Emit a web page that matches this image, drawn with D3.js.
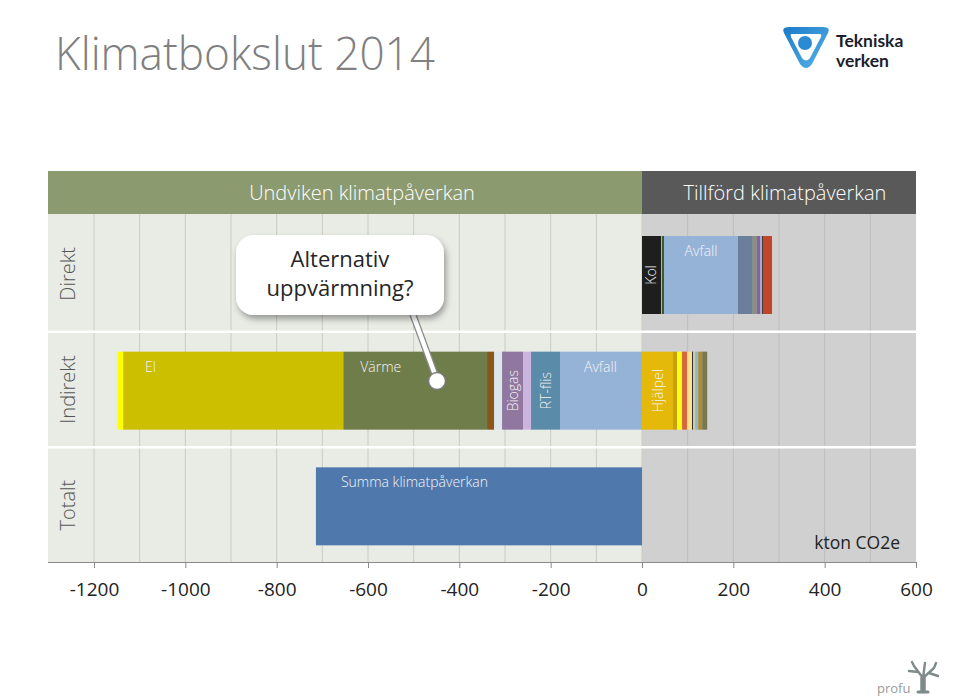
<!DOCTYPE html>
<html><head><meta charset="utf-8">
<script src="https://cdn.jsdelivr.net/npm/d3@7"></script>
<style>
html,body{margin:0;padding:0;background:#fff;}
svg{display:block;font-family:"Open Sans",sans-serif;}
</style></head>
<body>
<svg id="chart" width="960" height="699"></svg>
<script>
// ---------- DATA ----------
const rows = ["Direkt", "Indirekt", "Totalt"];
const headers = ["Undviken klimatpåverkan", "Tillförd klimatpåverkan"];
const tickValues = [-1200, -1000, -800, -600, -400, -200, 0, 200, 400, 600];

// Direkt (positive, from zero outward)
const direktNames  = ["Kol", "Bio a", "Bio b", "Avfall", "Olja", "Gas", "Övrigt a", "Övrigt b", "Övrigt c", "Övrigt d"];
const direktValues = [41.6, 2.2, 4.4, 162, 30.7, 11, 6.5, 4.4, 2.2, 19.7];

// Indirekt negative (from zero outward, leftwards)
const indNegNames  = ["Avfall", "RT-flis", "Pellets", "Biogas", "Övrigt", "Trä", "Värme", "El", "Sol"];
const indNegValues = [-179.5, -63.5, -17.5, -46, -17.5, -15.3, -315, -482, -12];

// Indirekt positive (from zero outward)
const indPosNames  = ["Hjälpel", "P1", "P2", "P3", "P4", "P5", "P6", "P7", "P8", "P9"];
const indPosValues = [68, 8.8, 11, 11, 11, 2.2, 4.4, 6.6, 8.8, 11];

// Totalt
const totalNames  = ["Summa klimatpåverkan"];
const totalValues = [-714];

// ---------- STYLES ----------
const direktColors = ["#1e1e1e", "#a9c466", "#3d5a28", "#95b3d7", "#6b7e9b", "#8b8e88", "#8064a2", "#b6a4cc", "#3f3f3f", "#c0452b"];
const indNegColors = ["#95b3d7", "#5a8ba8", "#cbb5de", "#8f77a0", "#dbe6ea", "#8a561c", "#6f7d4a", "#ccbf00", "#ffff00"];
const indPosColors = ["#e5b90a", "#c8a012", "#ffff10", "#d9653a", "#ffe28e", "#151515", "#c5d2b0", "#8fb4d8", "#b08c30", "#77784f"];
const totalColors  = ["#4f79ad"];

const svg = d3.select("#chart");
const x = d3.scaleLinear().domain([-1200, 600]).range([94, 916]);
const panelLeft = 48, panelRight = 916;
const headerTop = 171, headerBottom = 214;
const y = d3.scaleBand().domain(rows).range([216, 563]).paddingInner(0).paddingOuter(0);
const barTop = 20, barH = 78;

// Title
svg.append("text").attr("x", 55).attr("y", 70).text("Klimatbokslut 2014")
  .attr("font-size", 46).attr("font-weight", 300).attr("fill", "#808080")
  .attr("textLength", 380).attr("lengthAdjust", "spacingAndGlyphs");

// Header bars
svg.append("rect").attr("x", panelLeft).attr("y", headerTop).attr("width", x(0) - panelLeft).attr("height", headerBottom - headerTop).attr("fill", "#8c9a70");
svg.append("rect").attr("x", x(0)).attr("y", headerTop).attr("width", panelRight - x(0)).attr("height", headerBottom - headerTop).attr("fill", "#595959");
svg.append("text").attr("x", 362).attr("y", 200).attr("text-anchor", "middle")
  .attr("font-size", 20).attr("font-weight", 300).attr("fill", "#ffffff").text(headers[0]);
svg.append("text").attr("x", 785).attr("y", 200).attr("text-anchor", "middle")
  .attr("font-size", 20).attr("font-weight", 300).attr("fill", "#ffffff").text(headers[1]);

// Plot background
svg.append("rect").attr("x", panelLeft).attr("y", headerBottom).attr("width", x(0) - panelLeft).attr("height", 562 - headerBottom).attr("fill", "#e9ebe5");
svg.append("rect").attr("x", x(0)).attr("y", headerBottom).attr("width", panelRight - x(0)).attr("height", 562 - headerBottom).attr("fill", "#d0d0d0");

// grid lines every 100
const gridVals = d3.range(-1200, 600, 100);
svg.append("g").selectAll("line").data(gridVals).join("line")
  .attr("x1", d => x(d)).attr("x2", d => x(d))
  .attr("y1", headerBottom).attr("y2", 562)
  .attr("stroke", d => d > 0 ? "#bdbdbd" : "#c9cbc5").attr("stroke-width", 1);

// row separators
svg.append("g").selectAll("line").data(rows.slice(1)).join("line")
  .attr("x1", panelLeft).attr("x2", panelRight)
  .attr("y1", d => y(d)).attr("y2", d => y(d))
  .attr("stroke", "#ffffff").attr("stroke-width", 2.5);

// Row labels
svg.append("g").selectAll("text").data(rows).join("text")
  .attr("transform", d => `translate(75,${y(d) + y.bandwidth() / 2}) rotate(-90)`)
  .attr("text-anchor", "middle").attr("font-size", 20).attr("font-weight", 300).attr("fill", "#555")
  .text(d => d);

// stacking helper
function stack(values) {
  const ends = d3.cumsum(values);
  return values.map((v, i) => ({ v, start: ends[i] - v, end: ends[i], i }));
}
function drawRow(row, values, colors) {
  const segs = stack(values);
  svg.append("g").selectAll("rect").data(segs).join("rect")
    .attr("x", d => x(Math.min(d.start, d.end)))
    .attr("width", d => Math.abs(x(d.end) - x(d.start)))
    .attr("y", y(row) + barTop)
    .attr("height", barH)
    .attr("fill", d => colors[d.i]);
  return segs;
}
const dSegs = drawRow("Direkt", direktValues, direktColors);
const nSegs = drawRow("Indirekt", indNegValues, indNegColors);
const pSegs = drawRow("Indirekt", indPosValues, indPosColors);
const tSegs = drawRow("Totalt", totalValues, totalColors);

// Bar labels
const lblColor = "#f4f4f4";
const lblSize = 14;
function hLabel(row, seg, text, dx) {
  svg.append("text").attr("x", x(Math.min(seg.start, seg.end)) + dx).attr("y", y(row) + barTop + 20)
    .attr("font-size", lblSize).attr("font-weight", 300).attr("fill", lblColor).text(text);
}
function vLabel(row, seg, text) {
  const cx = (x(seg.start) + x(seg.end)) / 2;
  const cy = y(row) + barTop + barH / 2;
  svg.append("text").attr("transform", `translate(${cx + 5},${cy}) rotate(-90)`)
    .attr("text-anchor", "middle").attr("font-size", lblSize).attr("font-weight", 300).attr("fill", lblColor).text(text);
}
vLabel("Direkt", dSegs[0], direktNames[0]);
{
  const s = dSegs[3];
  svg.append("text").attr("x", (x(s.start) + x(s.end)) / 2).attr("y", y("Direkt") + barTop + 20)
    .attr("text-anchor", "middle").attr("font-size", lblSize).attr("font-weight", 300).attr("fill", lblColor).text(direktNames[3]);
}
hLabel("Indirekt", nSegs[7], indNegNames[7], 22);
hLabel("Indirekt", nSegs[6], indNegNames[6], 17);
hLabel("Indirekt", nSegs[0], indNegNames[0], 24);
vLabel("Indirekt", nSegs[3], indNegNames[3]);
vLabel("Indirekt", nSegs[1], indNegNames[1]);
vLabel("Indirekt", pSegs[0], indPosNames[0]);
hLabel("Totalt", tSegs[0], totalNames[0], 25);

// Axis
const axis = d3.axisBottom(x).tickValues(tickValues).tickSize(6).tickSizeOuter(0).tickFormat(d => String(d));
const ag = svg.append("g").attr("transform", "translate(0,562)").call(axis);
ag.select(".domain").attr("d", `M${panelLeft},0.5H${panelRight}`).attr("stroke", "#8a8a8a");
ag.selectAll(".tick line").attr("stroke", "#8a8a8a");
ag.selectAll(".tick text").attr("font-size", 19).attr("font-family", "Open Sans, sans-serif").attr("font-weight", 400)
  .attr("fill", "#222").attr("y", 34).attr("dy", 0);

// unit label
svg.append("text").attr("x", 900).attr("y", 549).attr("text-anchor", "end")
  .attr("font-size", 17.5).attr("fill", "#222").text("kton CO2e");

// Callout
const defs = svg.append("defs");
const f = defs.append("filter").attr("id", "sh").attr("x", "-20%").attr("y", "-20%").attr("width", "140%").attr("height", "150%");
f.append("feDropShadow").attr("dx", 2).attr("dy", 4).attr("stdDeviation", 3).attr("flood-color", "#000").attr("flood-opacity", 0.35);
svg.append("line").attr("x1", 412).attr("y1", 312).attr("x2", 437).attr("y2", 380)
  .attr("stroke", "#8a8a8a").attr("stroke-width", 7);
svg.append("line").attr("x1", 412).attr("y1", 312).attr("x2", 437).attr("y2", 380)
  .attr("stroke", "#ffffff").attr("stroke-width", 4.5);
svg.append("circle").attr("cx", 437).attr("cy", 381).attr("r", 8.5).attr("fill", "#ffffff").attr("stroke", "#7a7a7a").attr("stroke-width", 1.5);
svg.append("rect").attr("x", 236).attr("y", 235).attr("width", 208).attr("height", 80).attr("rx", 18)
  .attr("fill", "#ffffff").attr("filter", "url(#sh)");
svg.append("text").attr("x", 340).attr("y", 267).attr("text-anchor", "middle").attr("font-size", 22)
  .attr("font-family", "Liberation Sans Narrow, Open Sans, sans-serif").attr("fill", "#262626").text("Alternativ");
svg.append("text").attr("x", 340).attr("y", 296).attr("text-anchor", "middle").attr("font-size", 22)
  .attr("font-family", "Liberation Sans Narrow, Open Sans, sans-serif").attr("fill", "#262626").text("uppvärmning?");

// Tekniska verken logo
const lg = svg.append("g").attr("transform", "translate(806,47)");
const lgrad = defs.append("linearGradient").attr("id", "lgr").attr("x1", "0").attr("y1", "0").attr("x2", "1").attr("y2", "1");
lgrad.append("stop").attr("offset", "0").attr("stop-color", "#1c7ac8");
lgrad.append("stop").attr("offset", "1").attr("stop-color", "#57b4e8");
lg.append("path").attr("d", "M-22,-14 Q-25,-20 -17,-20 L17,-20 Q25,-20 22,-14 L6,17 Q0,25 -6,17 Z").attr("fill", "url(#lgr)");
lg.append("path").attr("d", "M-14,-13 L14,-13 Q16,-13 15,-10 L4,11 Q0,16 -4,11 L-15,-10 Q-16,-13 -14,-13 Z").attr("fill", "#ffffff");
lg.append("circle").attr("cx", -1).attr("cy", -4).attr("r", 7).attr("fill", "#2a8ad4");
svg.append("text").attr("x", 836).attr("y", 47).attr("font-size", 17.5).attr("font-weight", 700).attr("fill", "#1d1d2b").attr("font-family", "Lato, sans-serif").text("Tekniska");
svg.append("text").attr("x", 836).attr("y", 67).attr("font-size", 17.5).attr("font-weight", 700).attr("fill", "#1d1d2b").attr("font-family", "Lato, sans-serif").text("verken");

// profu logo
svg.append("text").attr("x", 877).attr("y", 693).attr("font-size", 13).attr("fill", "#9a9a9a").text("profu");
const tree = svg.append("g").attr("transform", "translate(923,692)").attr("stroke", "#7f8a8a").attr("fill", "none").attr("stroke-linecap", "round");
tree.append("path").attr("d", "M0,0 L0,-14 M0,-14 L-9,-26 M0,-14 L11,-24 M-5,-20 L-14,-21 M6,-19 L15,-16 M0,-14 L2,-29 M-9,-26 L-11,-30 M11,-24 L13,-29").attr("stroke-width", 2.4);
tree.append("path").attr("d", "M-1.5,0 L-1.5,-14 M1.5,0 L1.5,-14").attr("stroke-width", 2.5);
tree.append("path").attr("d", "M-5,0 L5,0").attr("stroke-width", 3);
</script>
</body></html>
